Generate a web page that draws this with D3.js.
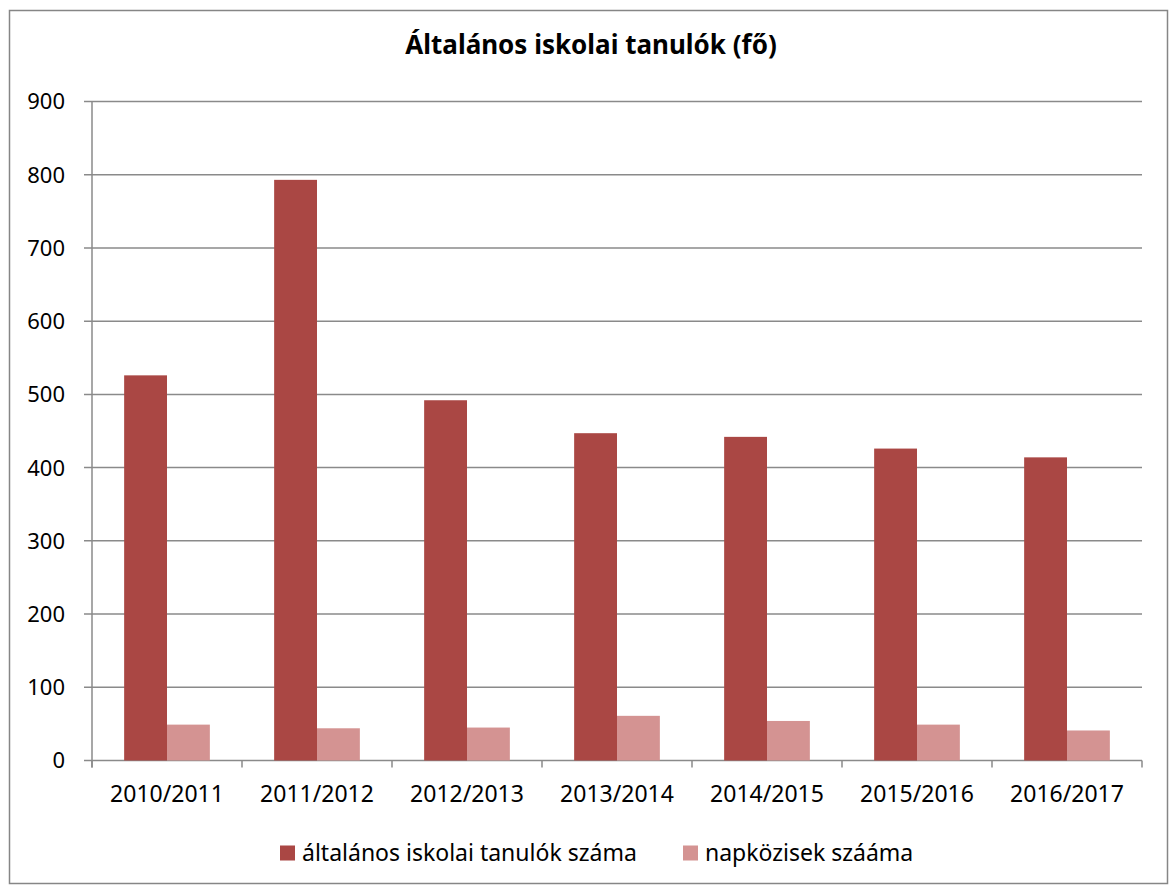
<!DOCTYPE html>
<html>
<head>
<meta charset="utf-8">
<script src="https://cdn.jsdelivr.net/npm/d3@7"></script>
<style>
  body { margin: 0; background: #fff; }
  svg text { font-family: "Noto Sans", sans-serif; fill: #000; }
</style>
</head>
<body>
<svg id="chart" width="1169" height="885"></svg>
<script>
// data
const title = "Általános iskolai tanulók (fő)";
const years = ["2010/2011", "2011/2012", "2012/2013", "2013/2014", "2014/2015", "2015/2016", "2016/2017"];
const seriesNames = ["általános iskolai tanulók száma", "napközisek szááma"];
const pupils = [526, 793, 492, 447, 442, 426, 414];
const dayCare = [49, 44, 45, 61, 54, 49, 41];
const yTicks = [0, 100, 200, 300, 400, 500, 600, 700, 800, 900];
const colors = ["#aa4744", "#d49392"];

const svg = d3.select("#chart");

// outer frame
svg.append("rect")
    .attr("x", 9.5).attr("y", 10.5)
    .attr("width", 1158).attr("height", 873)
    .attr("fill", "#fff")
    .attr("stroke", "#868686")
    .attr("stroke-width", 1.5);

const plotL = 92, plotR = 1142, plotT = 101.5, plotB = 760.5;

const x = d3.scaleBand()
    .domain(years)
    .range([plotL, plotR]);

// gap width 150% -> bar = band / 3.5
const barW = x.bandwidth() / 3.5;
const xs = d3.scaleBand()
    .domain([0, 1])
    .range([barW * 0.75, barW * 2.75]);

const y = d3.scaleLinear()
    .domain([0, 900])
    .range([plotB, plotT]);

// gridlines
svg.append("g")
    .selectAll("line")
    .data(yTicks)
    .enter()
    .append("line")
    .attr("x1", plotL - 8)
    .attr("x2", plotR)
    .attr("y1", d => y(d))
    .attr("y2", d => y(d))
    .attr("stroke", "#8a8a8a")
    .attr("stroke-width", 1.5);

// y labels
svg.append("g")
    .selectAll("text")
    .data(yTicks)
    .enter()
    .append("text")
    .attr("x", 65)
    .attr("y", d => y(d))
    .attr("dy", "0.36em")
    .attr("text-anchor", "end")
    .style("font-size", "22px")
    .text(d => d);

// bars
const series = [pupils, dayCare];
series.forEach(function (vals, si) {
    svg.append("g")
        .selectAll("rect")
        .data(vals)
        .enter()
        .append("rect")
        .attr("x", (d, i) => x(years[i]) + xs(si))
        .attr("y", d => y(d))
        .attr("width", xs.bandwidth())
        .attr("height", d => y(0) - y(d))
        .attr("fill", colors[si]);
});

// value axis line
svg.append("line")
    .attr("x1", plotL).attr("x2", plotL)
    .attr("y1", plotT).attr("y2", plotB + 7)
    .attr("stroke", "#8a8a8a")
    .attr("stroke-width", 1.5);

// category axis ticks at band edges
const edges = years.map(d => x(d)).concat([plotR]);
svg.append("g")
    .selectAll("line")
    .data(edges)
    .enter()
    .append("line")
    .attr("x1", d => d).attr("x2", d => d)
    .attr("y1", plotB).attr("y2", plotB + 7)
    .attr("stroke", "#8a8a8a")
    .attr("stroke-width", 1.5);

svg.append("g")
    .selectAll("text")
    .data(years)
    .enter()
    .append("text")
    .attr("x", d => x(d) + x.bandwidth() / 2)
    .attr("y", 794)
    .attr("dy", "0.36em")
    .attr("text-anchor", "middle")
    .style("font-size", "23px")
    .text(d => d);

// title
svg.append("text")
    .attr("x", 591)
    .attr("y", 54)
    .attr("text-anchor", "middle")
    .style("font-size", "26px")
    .style("font-weight", "bold")
    .text(title);

// legend
const legendX = [280, 683];
seriesNames.forEach(function (name, i) {
    const g = svg.append("g").attr("transform", `translate(${legendX[i]},853)`);
    g.append("rect")
        .attr("x", 0).attr("y", -7.5)
        .attr("width", 15).attr("height", 15)
        .attr("fill", colors[i]);
    g.append("text")
        .attr("x", 22)
        .attr("y", 0)
        .attr("dy", "0.36em")
        .style("font-size", "23px")
        .text(name);
});
</script>
</body>
</html>
